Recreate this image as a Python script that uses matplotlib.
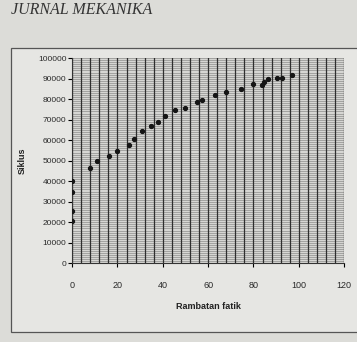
import numpy as np
import matplotlib.pyplot as plt
from matplotlib.patches import Rectangle

# Rambatan fatik vs siklus
rambatan = [0, 0, 0, 0, 7.8, 10.9, 16.1, 20.0, 25.1, 27.4, 30.7, 34.9, 37.9,
            40.9, 45.6, 49.8, 55.1, 57.3, 63.0, 67.7, 74.5, 80.0, 83.8, 84.6,
            86.3, 90.4, 92.5, 97.1]
siklus = [20500, 25500, 35000, 40000, 46300, 49900, 52200, 54700, 57500,
          60700, 64700, 67100, 68700, 72000, 74500, 75900, 78600, 79800,
          81900, 83600, 85100, 87200, 86800, 88300, 89600, 90300, 90300,
          91700]

x_ticks = [0, 20, 40, 60, 80, 100, 120]
y_ticks = list(range(0, 100001, 10000))

plt.rcParams['font.family'] = ['Liberation Sans', 'DejaVu Sans']

fig = plt.figure(figsize=(3.57, 3.42), dpi=100)
fig.patch.set_facecolor('#dcdcd8')

# chart area frame (behind the axes)
fig.patches.append(Rectangle((0.03, 0.03), 1.0, 0.83, transform=fig.transFigure,
                             facecolor='#e6e6e3', edgecolor='#555555', lw=0.9,
                             zorder=-5))
# page header at the top of the photo
fig.text(0.03, 0.96, 'JURNAL MEKANIKA', family='Liberation Serif',
         style='italic', fontsize=11.5, color='#333333', va='baseline',
         ha='left')

ax = fig.add_axes([0.202, 0.23, 0.762, 0.6])
ax.set_facecolor('#d6d6d3')

# dense Excel-style gridlines
for yv in range(0, 100001, 1000):
    ax.axhline(yv, color='#8e8e8c', lw=0.5, zorder=1)
for xv in range(0, 121, 4):
    ax.axvline(xv, color='#2e2e2e', lw=0.9, zorder=1)

ax.plot(rambatan, siklus, 'o', color='#151515', ms=2.8, zorder=3)

ax.set_xlim(0, 120)
ax.set_ylim(0, 100000)
ax.set_xticks(x_ticks)
ax.set_yticks(y_ticks)
ax.set_xticklabels([str(v) for v in x_ticks], fontsize=6.5, color='#2a2a2a')
ax.set_yticklabels([str(v) for v in y_ticks], fontsize=6, color='#2a2a2a')
ax.tick_params(axis='x', length=3, pad=10, width=0.8)
ax.tick_params(axis='y', length=3, pad=1, width=0.8)
for s in ['top', 'right']:
    ax.spines[s].set_visible(False)
for s in ['left', 'bottom']:
    ax.spines[s].set_color('#333333')

ax.set_xlabel('Rambatan fatik', fontsize=6.5, fontweight='bold',
              color='#222222', labelpad=8)
ax.set_ylabel('Siklus', fontsize=6.5, fontweight='bold', color='#222222',
              labelpad=8)

fig.savefig('out.png', dpi=100, facecolor=fig.get_facecolor())
